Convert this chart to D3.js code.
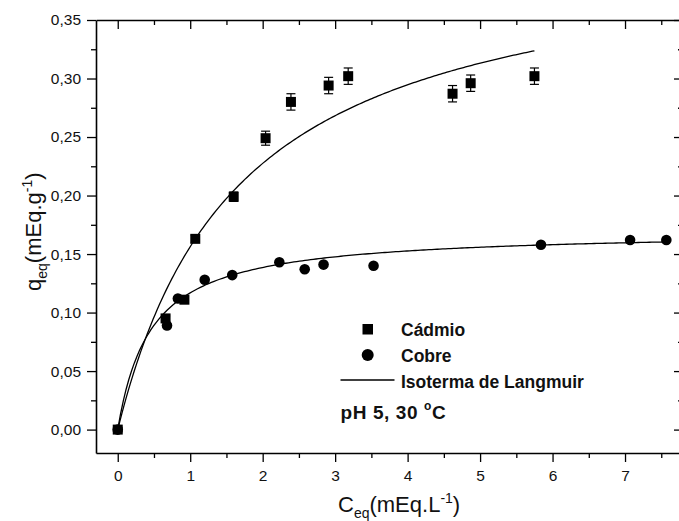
<!DOCTYPE html>
<html>
<head>
<meta charset="utf-8">
<script src="https://cdn.jsdelivr.net/npm/d3@7"></script>
<style>
  html, body { margin: 0; padding: 0; background: #fff; }
  svg { display: block; font-family: "Liberation Sans", Arial, sans-serif; }
</style>
</head>
<body>
<svg id="chart" width="679" height="521"></svg>
<script>
// Cádmio: equilibrium concentration (mEq/L), uptake (mEq/g) and its standard deviation
const cadmioC   = [0, 0.66, 0.92, 1.07, 1.60, 2.04, 2.39, 2.91, 3.18, 4.62, 4.87, 5.75];
const cadmioQ   = [0.000, 0.095, 0.111, 0.163, 0.199, 0.249, 0.280, 0.294, 0.302, 0.287, 0.296, 0.302];
const cadmioErr = [0.002, 0.002, 0.002, 0.003, 0.004, 0.006, 0.007, 0.007, 0.007, 0.007, 0.007, 0.007];

// Cobre: equilibrium concentration (mEq/L) and uptake (mEq/g)
const cobreC = [0, 0.68, 0.83, 1.20, 1.58, 2.23, 2.58, 2.84, 3.53, 5.84, 7.07, 7.57];
const cobreQ = [0.000, 0.089, 0.112, 0.128, 0.132, 0.143, 0.137, 0.141, 0.140, 0.158, 0.162, 0.162];

// Langmuir isotherm fits: q = qmax*K*C / (1 + K*C)
const langmuirCadmio = { qmax: 0.418, K: 0.597, cMax: 5.75 };
const langmuirCobre  = { qmax: 0.170, K: 2.2,   cMax: 7.60 };

// Axis ticks
const xTicks = [0, 1, 2, 3, 4, 5, 6, 7];
const xMinorTicks = [0.5, 1.5, 2.5, 3.5, 4.5, 5.5, 6.5, 7.5];
const yTicks = [0, 0.05, 0.10, 0.15, 0.20, 0.25, 0.30, 0.35];
const yMinorTicks = [0.025, 0.075, 0.125, 0.175, 0.225, 0.275, 0.325];

const svg = d3.select("#chart");
const plotLeft = 96, plotRight = 683, plotTop = 20, plotBottom = 453;

const x = d3.scaleLinear().domain([-0.3, 7.8]).range([plotLeft, plotRight]);
const y = d3.scaleLinear().domain([-0.02, 0.35]).range([plotBottom, plotTop]);

const fmtY = v => d3.format(".2f")(v).replace(".", ",");

// One frame side: major ticks (optionally labelled) plus minor ticks
function drawAxis(makeAxis, tickVals, minorVals, transform, fmt, pad) {
  const gMajor = svg.append("g").attr("transform", transform)
    .call(makeAxis().tickValues(tickVals).tickSize(9).tickSizeOuter(0).tickPadding(pad || 4)
      .tickFormat(fmt ? fmt : () => ""));
  const gMinor = svg.append("g").attr("transform", transform)
    .call(makeAxis().tickValues(minorVals).tickSize(5).tickSizeOuter(0).tickFormat(() => ""));
  gMinor.select(".domain").remove();
  [gMajor, gMinor].forEach(g => {
    g.select(".domain").attr("stroke", "#000").attr("stroke-width", 1.6);
    g.selectAll(".tick line").attr("stroke", "#000").attr("stroke-width", 1.3);
    g.selectAll(".tick text").attr("fill", "#111").style("font-size", "15.5px")
      .style("font-family", "'Liberation Sans', Arial, sans-serif");
  });
  return gMajor;
}

// bottom and left: ticks outside; top and right: ticks inside
drawAxis(() => d3.axisBottom(x), xTicks, xMinorTicks, `translate(0,${plotBottom})`, d3.format("d"), 8);
drawAxis(() => d3.axisBottom(x), xTicks, xMinorTicks, `translate(0,${plotTop})`, null);
drawAxis(() => d3.axisLeft(y), yTicks, yMinorTicks, `translate(${plotLeft},0)`, fmtY, 6);
drawAxis(() => d3.axisLeft(y), yTicks, yMinorTicks, `translate(${plotRight},0)`, null);

// Langmuir curves
function langmuir(p) {
  return d3.range(0, 201).map(i => {
    const c = p.cMax * i / 200;
    return [c, p.qmax * p.K * c / (1 + p.K * c)];
  });
}
const line = d3.line().x(d => x(d[0])).y(d => y(d[1]));
[langmuirCadmio, langmuirCobre].forEach(p => {
  svg.append("path").attr("d", line(langmuir(p)))
    .attr("fill", "none").attr("stroke", "#000").attr("stroke-width", 1.3);
});

// Cobre points
svg.append("g").selectAll("circle").data(d3.zip(cobreC, cobreQ)).join("circle")
  .attr("cx", d => x(d[0])).attr("cy", d => y(d[1])).attr("r", 5.3).attr("fill", "#000");

// Cádmio error bars and points
const cd = cadmioC.map((c, i) => ({ c, q: cadmioQ[i], e: cadmioErr[i] }));
const eb = svg.append("g").attr("stroke", "#000").attr("stroke-width", 1.2);
cd.forEach(d => {
  const cx = x(d.c), y1 = y(d.q + d.e), y2 = y(d.q - d.e);
  eb.append("line").attr("x1", cx).attr("x2", cx).attr("y1", y1).attr("y2", y2);
  eb.append("line").attr("x1", cx - 4.5).attr("x2", cx + 4.5).attr("y1", y1).attr("y2", y1);
  eb.append("line").attr("x1", cx - 4.5).attr("x2", cx + 4.5).attr("y1", y2).attr("y2", y2);
});
svg.append("g").selectAll("rect").data(cd).join("rect")
  .attr("x", d => x(d.c) - 5).attr("y", d => y(d.q) - 5)
  .attr("width", 10).attr("height", 10).attr("fill", "#000");

// Axis titles
const xt = svg.append("text").attr("x", 338).attr("y", 512)
  .style("font-size", "22px").attr("fill", "#111");
xt.append("tspan").text("C");
xt.append("tspan").attr("dy", 6).style("font-size", "14px").text("eq");
xt.append("tspan").attr("dy", -6).text("(mEq.L");
xt.append("tspan").attr("dy", -9).style("font-size", "14px").text("-1");
xt.append("tspan").attr("dy", 9).text(")");

const yt = svg.append("text").attr("transform", "translate(41,291) rotate(-90)")
  .style("font-size", "22px").attr("fill", "#111");
yt.append("tspan").text("q");
yt.append("tspan").attr("dy", 6).style("font-size", "14px").text("eq");
yt.append("tspan").attr("dy", -6).text("(mEq.g");
yt.append("tspan").attr("dy", -9).style("font-size", "14px").text("-1");
yt.append("tspan").attr("dy", 9).text(")");

// Legend
const lg = svg.append("g").style("font-size", "17.5px").style("font-weight", "bold").attr("fill", "#111");
lg.append("rect").attr("x", 362.5).attr("y", 324).attr("width", 10.5).attr("height", 10.5).attr("fill", "#000");
lg.append("text").attr("x", 401).attr("y", 335.5).text("Cádmio");
lg.append("circle").attr("cx", 367.7).attr("cy", 355).attr("r", 6).attr("fill", "#000");
lg.append("text").attr("x", 401).attr("y", 361.5).text("Cobre");
lg.append("line").attr("x1", 340.5).attr("x2", 394.5).attr("y1", 380).attr("y2", 380)
  .attr("stroke", "#000").attr("stroke-width", 1.3);
lg.append("text").attr("x", 401).attr("y", 387.5).text("Isoterma de Langmuir");
const ph = lg.append("text").attr("x", 340.5).attr("y", 418.5).style("font-size", "19px")
  .style("letter-spacing", "0.6px");
ph.append("tspan").text("pH 5, 30 ");
ph.append("tspan").attr("dy", -9).style("font-size", "12px").text("o");
ph.append("tspan").attr("dy", 9).text("C");
</script>
</body>
</html>
